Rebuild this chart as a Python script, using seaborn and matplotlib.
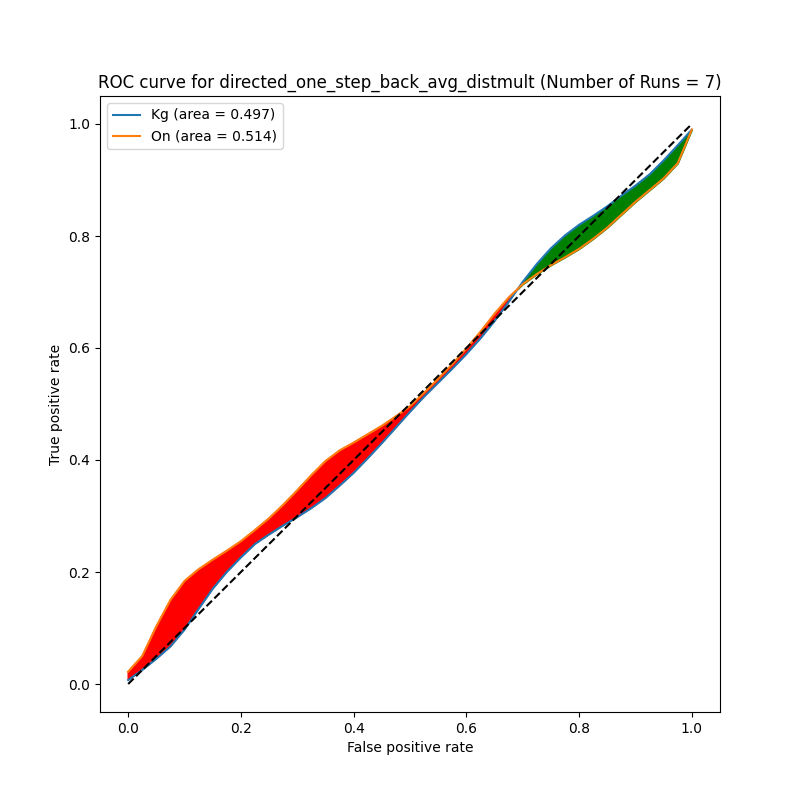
import numpy as np
import matplotlib
matplotlib.use("Agg")
import matplotlib.pyplot as plt
import seaborn as sns

# False positive rate grid (shared by both curves)
fpr = [0.0, 0.025, 0.05, 0.075, 0.1, 0.125, 0.15, 0.175, 0.2, 0.225, 0.25, 0.275,
       0.3, 0.325, 0.35, 0.375, 0.4, 0.425, 0.45, 0.475, 0.5, 0.525, 0.55, 0.575,
       0.6, 0.625, 0.65, 0.675, 0.7, 0.725, 0.75, 0.775, 0.8, 0.825, 0.85, 0.875,
       0.9, 0.925, 0.95, 0.975, 1.0]

# True positive rates
tpr_kg = [0.007, 0.025, 0.045, 0.067, 0.097, 0.134, 0.170, 0.200, 0.226, 0.250, 0.267, 0.283,
          0.298, 0.314, 0.332, 0.354, 0.377, 0.403, 0.430, 0.458, 0.486, 0.513, 0.538, 0.563,
          0.589, 0.617, 0.648, 0.682, 0.718, 0.750, 0.778, 0.801, 0.820, 0.836, 0.853, 0.872,
          0.890, 0.910, 0.935, 0.962, 0.990]
tpr_on = [0.022, 0.050, 0.103, 0.150, 0.184, 0.205, 0.222, 0.238, 0.255, 0.275, 0.296, 0.320,
          0.346, 0.373, 0.398, 0.417, 0.431, 0.446, 0.461, 0.478, 0.496, 0.520, 0.545, 0.571,
          0.599, 0.629, 0.661, 0.690, 0.714, 0.732, 0.748, 0.762, 0.777, 0.795, 0.815, 0.838,
          0.861, 0.882, 0.903, 0.930, 0.990]

auc_kg = 0.497
auc_on = 0.514
n_runs = 7
model_name = "directed_one_step_back_avg_distmult"

fig, ax = plt.subplots(figsize=(8, 8), dpi=100)

x = np.array(fpr)
kg = np.array(tpr_kg)
on = np.array(tpr_on)

# shade where one curve beats the other
ax.fill_between(x, kg, on, where=on >= kg, color="red", interpolate=True, zorder=1)
ax.fill_between(x, kg, on, where=kg > on, color="green", interpolate=True, zorder=1)

sns.lineplot(x=fpr, y=tpr_kg, label=f"Kg (area = {auc_kg:.3f})", ax=ax, sort=False, zorder=2)
sns.lineplot(x=fpr, y=tpr_on, label=f"On (area = {auc_on:.3f})", ax=ax, sort=False, zorder=2)
ax.plot([0, 1], [0, 1], "k--", zorder=3)

ax.set_xlabel("False positive rate")
ax.set_ylabel("True positive rate")
ax.set_title(f"ROC curve for {model_name} (Number of Runs = {n_runs})")
ax.legend(loc="upper left")

plt.savefig("out.png", dpi=100)
